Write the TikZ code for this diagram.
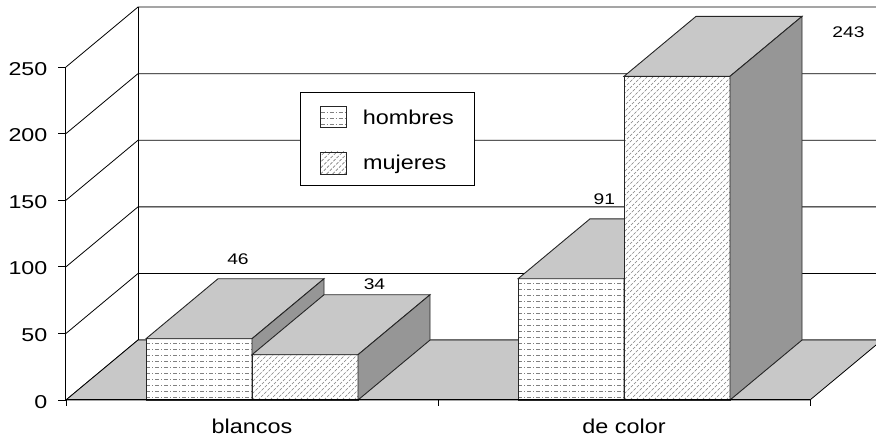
\documentclass[tikz,border=0pt]{standalone}
\usepackage{fontspec}
\setmainfont{Liberation Sans}
\usepackage{graphicx}
\definecolor{topgray}{RGB}{200,200,200}
\definecolor{sidegray}{RGB}{150,150,150}
\newcommand\numtxt[1]{\scalebox{1.25}[1]{#1}}
\newcommand\wordtxt[1]{\scalebox{1.17}[1]{#1}}
\tikzset{
  wallline/.style={line width=0.8pt},
  barline/.style={line width=0.9pt, draw=black!85},
  hdash/.style={draw=gray, line width=0.7pt, dash pattern=on 4pt off 2pt on 1pt off 2pt},
  ddash/.style={draw=gray, line width=0.6pt, dash pattern=on 3pt off 1.5pt},
  ticklab/.style={anchor=east, inner sep=0pt, yshift=-1.8pt, font=\fontsize{18.6}{20}\selectfont},
  vallab/.style={inner sep=0pt, font=\fontsize{15.4}{17}\selectfont},
  catlab/.style={inner sep=0pt, font=\fontsize{20}{22}\selectfont},
}
\begin{document}
\begin{tikzpicture}[x=1pt,y=1.332pt]
\useasboundingbox (-66,-27.78) rectangle (810,300.3);
\clip (-66,-27.78) rectangle (810,300.3);
% walls
\foreach \v in {0,50,...,250}
{
    \draw[wallline](0,\v)--(72,\v+45)--(830,\v+45);
}
\draw[wallline](72,45)--(72,295);
\filldraw[wallline,fill=topgray](0,0)--(744,0)--(816,45)--(72,45)--cycle;
% hombres
\foreach \a/\v in {80/46,452/91}
{
    \begin{scope}
    \clip(\a,0)rectangle(\a+106,\v);
    \fill[white](\a,0)rectangle(\a+106,\v);
    \foreach \yy in {2.25,6.75,...,250}
        \draw[hdash](\a,\yy)--(\a+106,\yy);
    \end{scope}
    \draw[barline](\a,0)rectangle(\a+106,\v);
    \filldraw[barline,fill=topgray](\a,\v)--++(72,45)--++(106,0)--++(-72,-45)--cycle;
    \filldraw[barline,fill=sidegray](\a+106,0)--++(72,45)--++(0,\v)--++(-72,-45)--cycle;
}
% mujeres
\foreach \a/\v in {186/34,558/243}
{
    \begin{scope}
    \clip(\a,0)rectangle(\a+106,\v);
    \fill[white](\a,0)rectangle(\a+106,\v);
    \foreach \xx in {-330,-324,...,106}
        \draw[ddash](\a+\xx,0)--++(330,247.7);
    \end{scope}
    \draw[barline](\a,0)rectangle(\a+106,\v);
    \filldraw[barline,fill=topgray](\a,\v)--++(72,45)--++(106,0)--++(-72,-45)--cycle;
    \filldraw[barline,fill=sidegray](\a+106,0)--++(72,45)--++(0,\v)--++(-72,-45)--cycle;
}
% axes
\draw[line width=1pt](0,250)--(0,0)--(744,0);
\foreach \v in {0,50,...,250}
{
    \draw[line width=0.9pt](-7.5,\v)--(0,\v);
    \node[ticklab](tick\v) at (-18.5,\v){\numtxt{\v}};
}
\foreach \x in {0,372,744}
{
    \draw[line width=0.9pt](\x,0)--(\x,-4.5);
}
\node[catlab,anchor=base](blancos) at (186,-24.8){\wordtxt{blancos}};
\node[catlab,anchor=base](decolor) at (558,-24.8){\wordtxt{de color}};
% values
\foreach \x/\y/\t in {172/106/46,308.5/87.1/34,538.3/150.7/91,782.5/276.1/243}
{
    \node[vallab](val\t) at (\x,\y){\numtxt{\t}};
}
% legend
\filldraw[fill=white,line width=0.9pt](234.7,160.7)rectangle(408,230.7);
\begin{scope}
\clip(254.7,204.4)rectangle(280.7,220.2);
\foreach \yy in {207,211.5,216}
    \draw[hdash](254.7,\yy)--(280.7,\yy);
\end{scope}
\draw[barline,line width=0.7pt](254.7,204.4)rectangle(280.7,220.2);
\begin{scope}
\clip(254.7,169.7)rectangle(280.7,186.2);
\foreach \xx in {-24,-18,...,26}
    \draw[ddash](254.7+\xx,169.7)--++(24,18);
\end{scope}
\draw[barline,line width=0.7pt](254.7,169.7)rectangle(280.7,186.2);
\node[catlab,anchor=base west](hombres) at (296.7,206.8){\wordtxt{hombres}};
\node[catlab,anchor=base west](mujeres) at (297,172.8){\wordtxt{mujeres}};

\end{tikzpicture}
\end{document}
